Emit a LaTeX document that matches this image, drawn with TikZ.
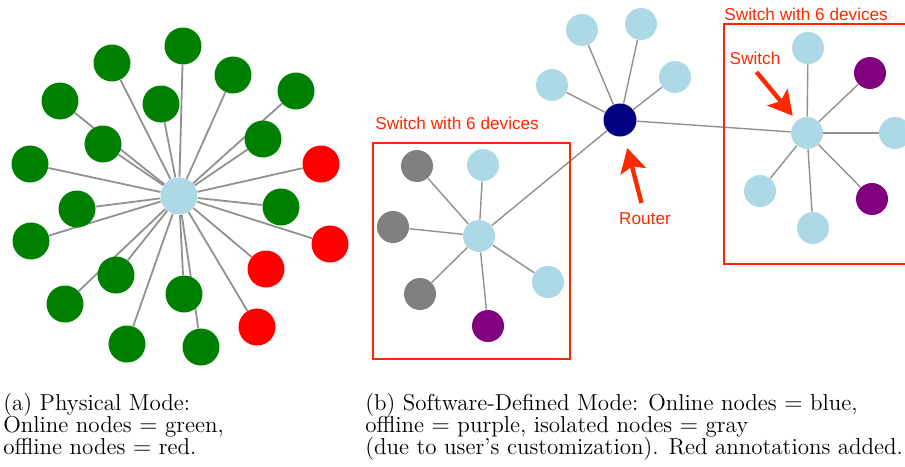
\documentclass[tikz,border=0pt]{standalone}
\usepackage{fontspec}
\newfontfamily\annotfont{Liberation Sans}
\usetikzlibrary{arrows.meta,backgrounds}
\definecolor{onlinegreen}{RGB}{0,128,0}
\definecolor{offred}{RGB}{255,0,0}
\definecolor{lightblu}{RGB}{173,216,230}
\definecolor{routerblue}{RGB}{0,0,128}
\definecolor{offpurple}{RGB}{128,0,128}
\definecolor{isogray}{RGB}{128,128,128}
\definecolor{linkgray}{RGB}{145,145,145}
\definecolor{annot}{RGB}{255,40,0}
\tikzset{
  bignode/.style={circle, inner sep=0pt, minimum size=18.5pt, fill=#1},
  smallnode/.style={circle, inner sep=0pt, minimum size=16pt, fill=#1},
  link/.style={draw=linkgray, line width=0.9pt},
  annotbox/.style={draw=annot, line width=0.6pt},
  annotlabel/.style={text=annot, font=\annotfont\fontsize{8.6}{10}\selectfont, inner sep=0pt},
  annotarrow/.style={draw=annot, line width=2.2pt, -{Stealth[length=12pt, width=13pt, inset=2.5pt]}},
  caption/.style={font=\fontsize{11.5}{11}\selectfont, align=left, inner sep=0pt}
}
\begin{document}
\begin{tikzpicture}[x=0.5pt, y=-0.5pt]
\useasboundingbox (0,0) rectangle (905,466);

% (a) physical mode
\node[bignode=lightblu] (hub) at (179,196) {};
\foreach \x/\y [count=\i] in {183/46, 112/63, 233/75, 296/91, 60/101, 161/104, 103/144, 263/139,
    30/164, 77/209, 281/207, 31/241, 116/275, 184/294, 65/304, 127/344, 201/347} {
  \node[bignode=onlinegreen] (g\i) at (\x,\y) {};
}
\foreach \x/\y [count=\i] in {321/164, 330/244, 266/269, 257/327} {
  \node[bignode=offred] (r\i) at (\x,\y) {};
}
\begin{scope}[on background layer]
  \foreach \i in {1,...,17} \draw[link] (hub) -- (g\i);
  \foreach \i in {1,...,4} \draw[link] (hub) -- (r\i);
\end{scope}

% (b) software-defined mode
\node[smallnode=routerblue, minimum size=16.5pt] (router) at (620,120) {};
\foreach \x/\y [count=\i] in {582/30, 641/24, 552/85, 675/77} {
  \node[smallnode=lightblu] (rb\i) at (\x,\y) {};
}
\node[smallnode=lightblu] (swa) at (479,236) {};
\foreach \x/\y/\c [count=\i] in {417/166/isogray, 483/165/lightblu, 393/227/isogray,
    420/294/isogray, 548/282/lightblu, 488/326/offpurple} {
  \node[smallnode=\c] (sa\i) at (\x,\y) {};
}
\node[smallnode=lightblu] (swb) at (807,133) {};
\foreach \x/\y/\c [count=\i] in {808/48/lightblu, 870/73/offpurple, 895/133/lightblu,
    760/191/lightblu, 872/199/offpurple, 813/228/lightblu} {
  \node[smallnode=\c] (sb\i) at (\x,\y) {};
}
\begin{scope}[on background layer]
  \foreach \i in {1,...,4} \draw[link, line width=0.7pt] (router) -- (rb\i);
  \draw[link, line width=0.7pt] (router) -- (swa);
  \draw[link, line width=0.7pt] (router) -- (swb);
  \foreach \i in {1,...,6} {
    \draw[link, line width=0.7pt] (swa) -- (sa\i);
    \draw[link, line width=0.7pt] (swb) -- (sb\i);
  }
\end{scope}

% red annotations
\draw[annotbox] (373,143) rectangle (570,359);
\draw[annotbox] (724,24) rectangle (915,264);
\node[annotlabel, anchor=west] (lbla) at (375,123) {Switch with 6 devices};
\node[annotlabel, anchor=west] (lblb) at (724,14) {Switch with 6 devices};
\node[annotlabel] (lblrouter) at (645,219) {Router};
\node[annotlabel] (lblswitch) at (755,58) {Switch};
\coordinate (routertail) at (641.5,203);
\coordinate (switchtail) at (756.5,72);
\draw[annotarrow, shorten >=6pt] (routertail) -- (router);
\draw[annotarrow, shorten >=3pt] (switchtail) -- (swb);

% captions
\node[caption, anchor=north west] (capa) at (3,393)
  {(a) Physical Mode:\\Online nodes $=$ green,\\offline nodes $=$ red.};
\node[caption, anchor=north west] (capb) at (365,393)
  {(b) Software-Defined Mode: Online nodes $=$ blue,\\offline $=$ purple, isolated nodes $=$ gray\\(due to user's customization). Red annotations added.};
\end{tikzpicture}
\end{document}
